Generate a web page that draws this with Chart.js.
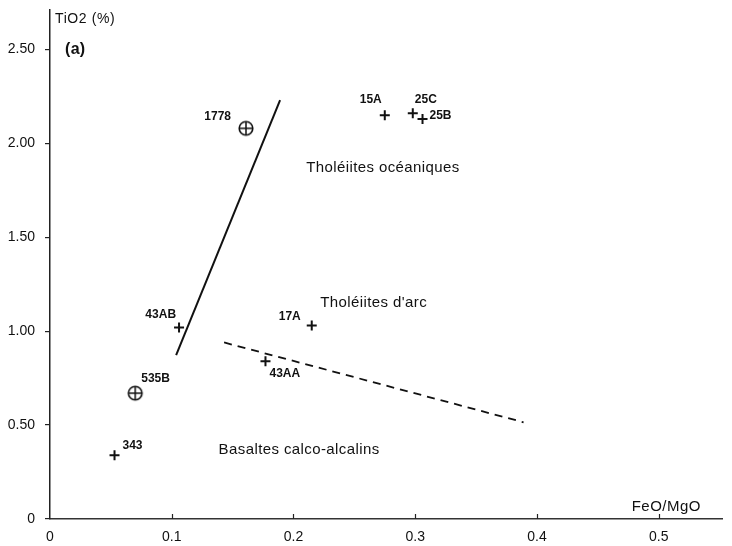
<!DOCTYPE html>
<html>
<head>
<meta charset="utf-8">
<script src="https://cdn.jsdelivr.net/npm/chart.js@4.4.1/dist/chart.umd.min.js"></script>
<style>
  html, body { margin: 0; padding: 0; background: #ffffff; }
  #wrap { width: 732px; height: 546px; }
</style>
</head>
<body>
<div id="wrap"><canvas id="c" width="732" height="546"></canvas></div>
<script>
// ---- data ----
const plusNames = ['15A', '25C', '25B', '43AB', '17A', '43AA', '343'];
const plusX = [0.275, 0.298, 0.306, 0.106, 0.215, 0.177, 0.053];
const plusY = [2.15, 2.16, 2.13, 1.02, 1.03, 0.84, 0.34];

const circledNames = ['1778', '535B'];
const circledX = [0.161, 0.070];
const circledY = [2.08, 0.67];

const solidLineX = [0.1036, 0.189];
const solidLineY = [0.872, 2.23];
const dashedLineX = [0.143, 0.389];
const dashedLineY = [0.94, 0.515];

const xTickValues = [0, 0.1, 0.2, 0.3, 0.4, 0.5];
const xTickLabels = ['0', '0.1', '0.2', '0.3', '0.4', '0.5'];
const yTickValues = [0, 0.5, 1.0, 1.5, 2.0, 2.5];
const yTickLabels = ['0', '0.50', '1.00', '1.50', '2.00', '2.50'];

const fieldNames = ['Tholéiites océaniques', "Tholéiites d'arc", 'Basaltes calco-alcalins'];
const fieldX = [0.2104, 0.222, 0.1385];
const fieldY = [1.867, 1.149, 0.367];

const xAxisTitle = 'FeO/MgO';
const yAxisTitle = 'TiO2 (%)';
const panelTag = '(a)';

// ---- styles (label placement relative to marks, in px) ----
const INK = '#111111';
const FONT = '"Liberation Sans", Arial, sans-serif';
const labelPlacement = {
  '15A':  { dx: -14, dy: -9, align: 'center', base: 'bottom' },
  '25C':  { dx: 2,   dy: -8, align: 'left',   base: 'bottom' },
  '25B':  { dx: 7,   dy: -3, align: 'left',   base: 'middle' },
  '43AB': { dx: -3,  dy: -7, align: 'right',  base: 'bottom' },
  '17A':  { dx: -11, dy: -3, align: 'right',  base: 'bottom' },
  '43AA': { dx: 4,   dy: 6,  align: 'left',   base: 'top' },
  '343':  { dx: 8,   dy: -3, align: 'left',   base: 'bottom' },
  '1778': { dx: -15, dy: -6, align: 'right',  base: 'bottom' },
  '535B': { dx: 6,   dy: -8, align: 'left',   base: 'bottom' }
};

function makeCircledPlus() {
  const c = document.createElement('canvas');
  c.width = 18; c.height = 18;
  const g = c.getContext('2d');
  g.strokeStyle = INK;
  g.lineWidth = 1.6;
  g.beginPath(); g.arc(9, 9, 6.8, 0, Math.PI * 2); g.stroke();
  g.lineWidth = 1.5;
  g.beginPath();
  g.moveTo(2.5, 9); g.lineTo(15.5, 9);
  g.moveTo(9, 2.5); g.lineTo(9, 15.5);
  g.stroke();
  return c;
}

const toPts = (xs, ys) => xs.map((x, i) => ({ x: x, y: ys[i] }));

function setSpacing(ctx, v) {
  if ('letterSpacing' in ctx) ctx.letterSpacing = v;
}

const labelPlugin = {
  id: 'labels',
  afterDatasetsDraw(chart) {
    const ctx = chart.ctx;
    const xs = chart.scales.x, ys = chart.scales.y;
    const area = chart.chartArea;
    ctx.save();
    // upward x tick marks
    ctx.strokeStyle = '#222';
    ctx.lineWidth = 1.2;
    xTickValues.forEach(v => {
      if (v === 0) return;
      const px = Math.round(xs.getPixelForValue(v)) + 0.5;
      ctx.beginPath();
      ctx.moveTo(px, area.bottom);
      ctx.lineTo(px, area.bottom - 5);
      ctx.stroke();
    });
    // sample labels
    ctx.fillStyle = INK;
    ctx.font = 'bold 12px ' + FONT;
    setSpacing(ctx, '0px');
    const drawName = (name, x, y) => {
      const p = labelPlacement[name];
      ctx.textAlign = p.align;
      ctx.textBaseline = p.base;
      ctx.fillText(name, xs.getPixelForValue(x) + p.dx, ys.getPixelForValue(y) + p.dy);
    };
    plusNames.forEach((n, i) => drawName(n, plusX[i], plusY[i]));
    circledNames.forEach((n, i) => drawName(n, circledX[i], circledY[i]));
    // field names
    ctx.font = '15px ' + FONT;
    setSpacing(ctx, '0.4px');
    ctx.textAlign = 'left';
    ctx.textBaseline = 'middle';
    fieldNames.forEach((n, i) => {
      ctx.fillText(n, xs.getPixelForValue(fieldX[i]), ys.getPixelForValue(fieldY[i]));
    });
    // axis titles
    ctx.font = '14px ' + FONT;
    setSpacing(ctx, '0.6px');
    ctx.textAlign = 'left';
    ctx.fillText(yAxisTitle, area.left + 5, 19);
    ctx.textAlign = 'right';
    ctx.font = '15px ' + FONT;
    setSpacing(ctx, '0.5px');
    ctx.fillText(xAxisTitle, area.right - 21, area.bottom - 12);
    ctx.textAlign = 'left';
    ctx.font = 'bold 16px ' + FONT;
    setSpacing(ctx, '0.3px');
    ctx.fillText(panelTag, area.left + 15, ys.getPixelForValue(2.5));
    ctx.restore();
  }
};

const fixedTicks = (values) => function (scale) {
  scale.ticks = values.map(v => ({ value: v }));
};

new Chart(document.getElementById('c'), {
  type: 'scatter',
  data: {
    datasets: [
      {
        label: 'plus',
        data: toPts(plusX, plusY),
        pointStyle: 'cross',
        pointRadius: 5,
        pointBorderWidth: 2,
        borderColor: INK,
        backgroundColor: INK
      },
      {
        label: 'circled',
        data: toPts(circledX, circledY),
        pointStyle: makeCircledPlus(),
        pointRadius: 9,
        borderColor: INK
      },
      {
        label: 'solid',
        data: toPts(solidLineX, solidLineY),
        showLine: true,
        pointRadius: 0,
        borderColor: INK,
        borderWidth: 2
      },
      {
        label: 'dashed',
        data: toPts(dashedLineX, dashedLineY),
        showLine: true,
        pointRadius: 0,
        borderColor: INK,
        borderWidth: 1.8,
        borderDash: [8, 6]
      }
    ]
  },
  options: {
    responsive: false,
    animation: false,
    events: [],
    layout: { padding: { top: 0, right: 5, left: 0, bottom: 0 } },
    plugins: {
      legend: { display: false },
      tooltip: { enabled: false }
    },
    scales: {
      x: {
        type: 'linear',
        min: 0,
        max: 0.552,
        afterBuildTicks: fixedTicks(xTickValues),
        afterFit(scale) {
          scale.height = 27;
          scale.paddingLeft = 0; scale.paddingRight = 0;
        },
        border: { display: true, color: '#333', width: 1.5 },
        grid: { display: false, drawTicks: false },
        ticks: {
          padding: 10,
          color: INK,
          font: { family: FONT, size: 14 },
          maxRotation: 0,
          autoSkip: false,
          callback: (v) => xTickLabels[xTickValues.indexOf(v)]
        }
      },
      y: {
        type: 'linear',
        min: 0,
        max: 2.71,
        afterBuildTicks: fixedTicks(yTickValues),
        afterFit(scale) {
          scale.width = 50;
          scale.paddingTop = 0; scale.paddingBottom = 0;
        },
        border: { display: true, color: '#222', width: 1.5 },
        grid: { display: true, drawOnChartArea: false, drawTicks: true, tickLength: 5, color: '#222', lineWidth: 1.2 },
        ticks: {
          padding: 10,
          color: INK,
          font: { family: FONT, size: 14 },
          autoSkip: false,
          callback: (v) => yTickLabels[yTickValues.indexOf(v)]
        }
      }
    }
  },
  plugins: [labelPlugin]
});
</script>
</body>
</html>
